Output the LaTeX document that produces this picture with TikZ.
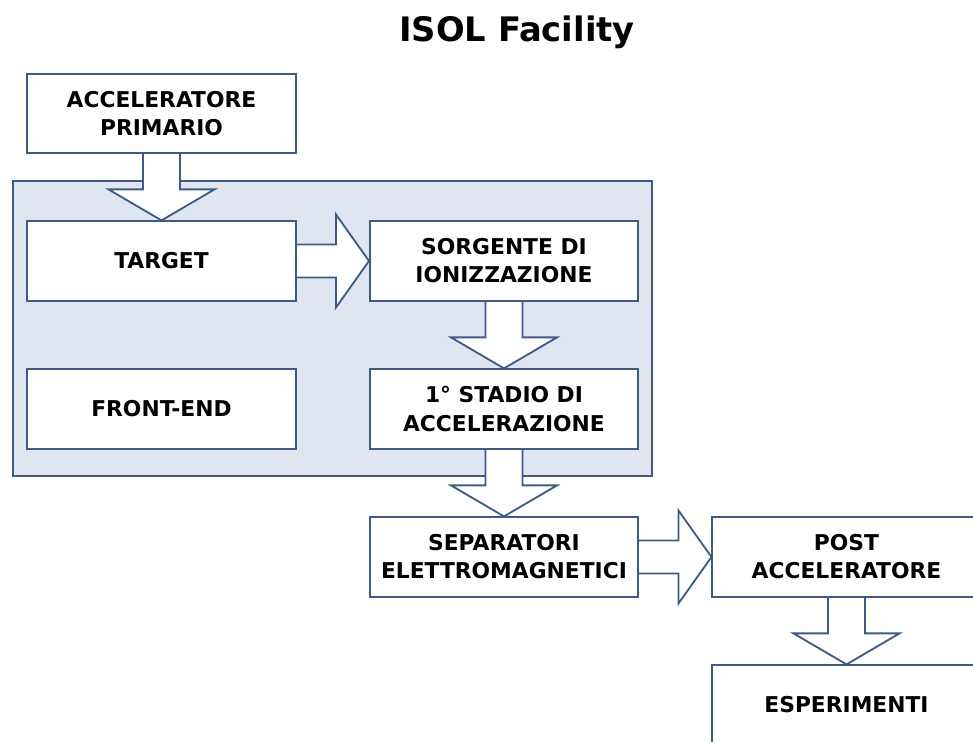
\documentclass[tikz,border=0pt]{standalone}
\usepackage{fontspec}
\setmainfont{DejaVu Sans}
\usepackage{tikz}
\usetikzlibrary{calc}

\definecolor{boxline}{HTML}{3B5B8C}
\definecolor{panelfill}{HTML}{DFE6F0}

\pgfdeclarelayer{bg}
\pgfdeclarelayer{flow}
\pgfsetlayers{bg,flow,main}

% block arrows between two boxes
\newcommand{\flowdown}[2]{%
  \draw[flowarrow] ($(#1.south)+(-18.5,0)$) -- ($(#2.north)+(-18.5,31)$)
    -- ($(#2.north)+(-53,31)$) -- (#2.north) -- ($(#2.north)+(53,31)$)
    -- ($(#2.north)+(18.5,31)$) -- ($(#1.south)+(18.5,0)$);}
\newcommand{\flowright}[2]{%
  \draw[flowarrow] ($(#1.east)+(0,16.5)$) -- ($(#2.west)+(-33,16.5)$)
    -- ($(#2.west)+(-33,46.5)$) -- (#2.west) -- ($(#2.west)+(-33,-46.5)$)
    -- ($(#2.west)+(-33,-16.5)$) -- ($(#1.east)+(0,-16.5)$);}

\begin{document}
\begin{tikzpicture}[x=0.025cm,y=0.025cm,
  stage/.style={draw=boxline,fill=white,line width=1.4pt,minimum width=6.7cm,
    minimum height=1.98cm,align=center,inner sep=0pt,
    font=\fontsize{15.5}{20}\selectfont\bfseries},
  flowarrow/.style={draw=boxline,fill=white,line width=1.3pt,line join=miter}]
  \useasboundingbox (0,0) rectangle (973,742);

  \node[font=\fontsize{24}{28}\selectfont\bfseries] (title) at (517,710) {ISOL Facility};

  \node[stage] (accel) at (161.5,628.5) {ACCELERATORE\\PRIMARIO};
  \node[stage] (target) at (161.5,481) {TARGET};
  \node[stage] (source) at (504,481) {SORGENTE DI\\IONIZZAZIONE};
  \node[stage] (frontend) at (161.5,333) {FRONT-END};
  \node[stage] (stage1) at (504,333) {1° STADIO DI\\ACCELERAZIONE};
  \node[stage] (separ) at (504,185) {SEPARATORI\\ELETTROMAGNETICI};
  \node[stage] (post) at (846.5,185) {POST\\ACCELERATORE};
  \node[stage] (exper) at (846.5,37) {ESPERIMENTI};

  % shaded front-end panel
  \begin{pgfonlayer}{bg}
    \draw[boxline,fill=panelfill,line width=1.6pt] (13,266) rectangle (652,561);
  \end{pgfonlayer}

  \begin{pgfonlayer}{flow}
    \flowdown{accel}{target}
    \flowright{target}{source}
    \flowdown{source}{stage1}
    \flowdown{stage1}{separ}
    \flowright{separ}{post}
    \flowdown{post}{exper}
  \end{pgfonlayer}
\end{tikzpicture}
\end{document}
